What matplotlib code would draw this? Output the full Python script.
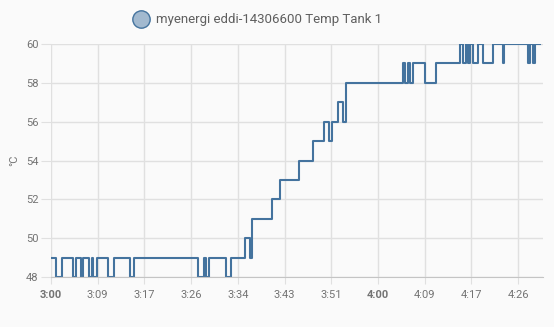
import matplotlib.pyplot as plt
from matplotlib.lines import Line2D

# minutes after 3:00 where the reading changes, and the new reading
minutes = [0.0, 1.0, 2.0, 4.0, 4.5, 5.5, 5.9, 7.0, 7.5, 7.8, 8.5, 10.5, 11.5,
           14.5, 15.2, 27.0, 28.0, 28.4, 29.0, 32.1, 33.0, 35.6, 36.5, 36.9,
           40.6, 42.1, 45.6, 48.1, 50.1, 51.0, 51.6, 52.6, 53.6, 54.1, 64.6,
           65.0, 65.5, 65.9, 66.5, 68.6, 70.6, 75.1, 75.6, 76.1, 76.5, 76.9,
           77.4, 78.4, 79.3, 81.1, 82.9, 83.2, 87.5, 87.9, 88.4, 88.9, 89.8]
temps = [49, 48, 49, 48, 49, 48, 49, 48, 49, 48, 49, 48, 49,
         48, 49, 48, 49, 48, 49, 48, 49, 50, 49, 51,
         52, 53, 54, 55, 56, 55, 56, 57, 56, 58, 59,
         58, 59, 58, 59, 58, 59, 60, 59, 60, 59, 60,
         59, 60, 59, 60, 59, 60, 59, 60, 59, 60, 60]

tick_pos = [i * 60 / 7 for i in range(11)]
tick_lab = ['3:00', '3:09', '3:17', '3:26', '3:34', '3:43', '3:51', '4:00',
            '4:09', '4:17', '4:26']
series = 'myenergi eddi-14306600 Temp Tank 1'

line_col = '#44739e'
grid_col = '#e0e0e0'
text_col = '#737373'

plt.rcParams['font.family'] = ['Roboto', 'DejaVu Sans']

fig = plt.figure(figsize=(5.54, 3.27), dpi=100, facecolor='#fafafa')
ax = fig.add_axes([51 / 554, 1 - 277 / 327, 492 / 554, 233 / 327])
ax.set_facecolor('#fafafa')

ax.plot(minutes, temps, drawstyle='steps-post', color=line_col, lw=1.5)

ax.set_xlim(0, 90.3)
ax.set_ylim(48, 60)
ax.set_yticks(range(48, 61, 2))
ax.set_xticks(tick_pos)
ax.set_xticklabels(tick_lab)
for lab in ax.get_xticklabels():
    if lab.get_text() in ('3:00', '4:00'):
        lab.set_fontweight('bold')

ax.grid(True, color=grid_col, lw=1)
ax.set_axisbelow(True)
for s in ['top', 'right', 'left']:
    ax.spines[s].set_visible(False)
ax.spines['bottom'].set_color('#c4c4c4')
ax.tick_params(axis='both', colors=grid_col, labelcolor=text_col, labelsize=8)
ax.tick_params(axis='y', length=7, pad=2)
ax.tick_params(axis='x', length=5, pad=4)
ax.set_ylabel('°C', color=text_col, fontsize=8, labelpad=5)

handle = Line2D([], [], marker='o', ls='none', markersize=12.5,
                markerfacecolor='#a2b9cf', markeredgecolor=line_col, markeredgewidth=1)
fig.legend([handle], [series], loc='center', bbox_to_anchor=(0.465, 0.939),
           frameon=False, fontsize=9.5, labelcolor='#5f5f5f', handletextpad=0.5,
           handlelength=1.2)

fig.savefig('out.png', dpi=100, facecolor=fig.get_facecolor())
